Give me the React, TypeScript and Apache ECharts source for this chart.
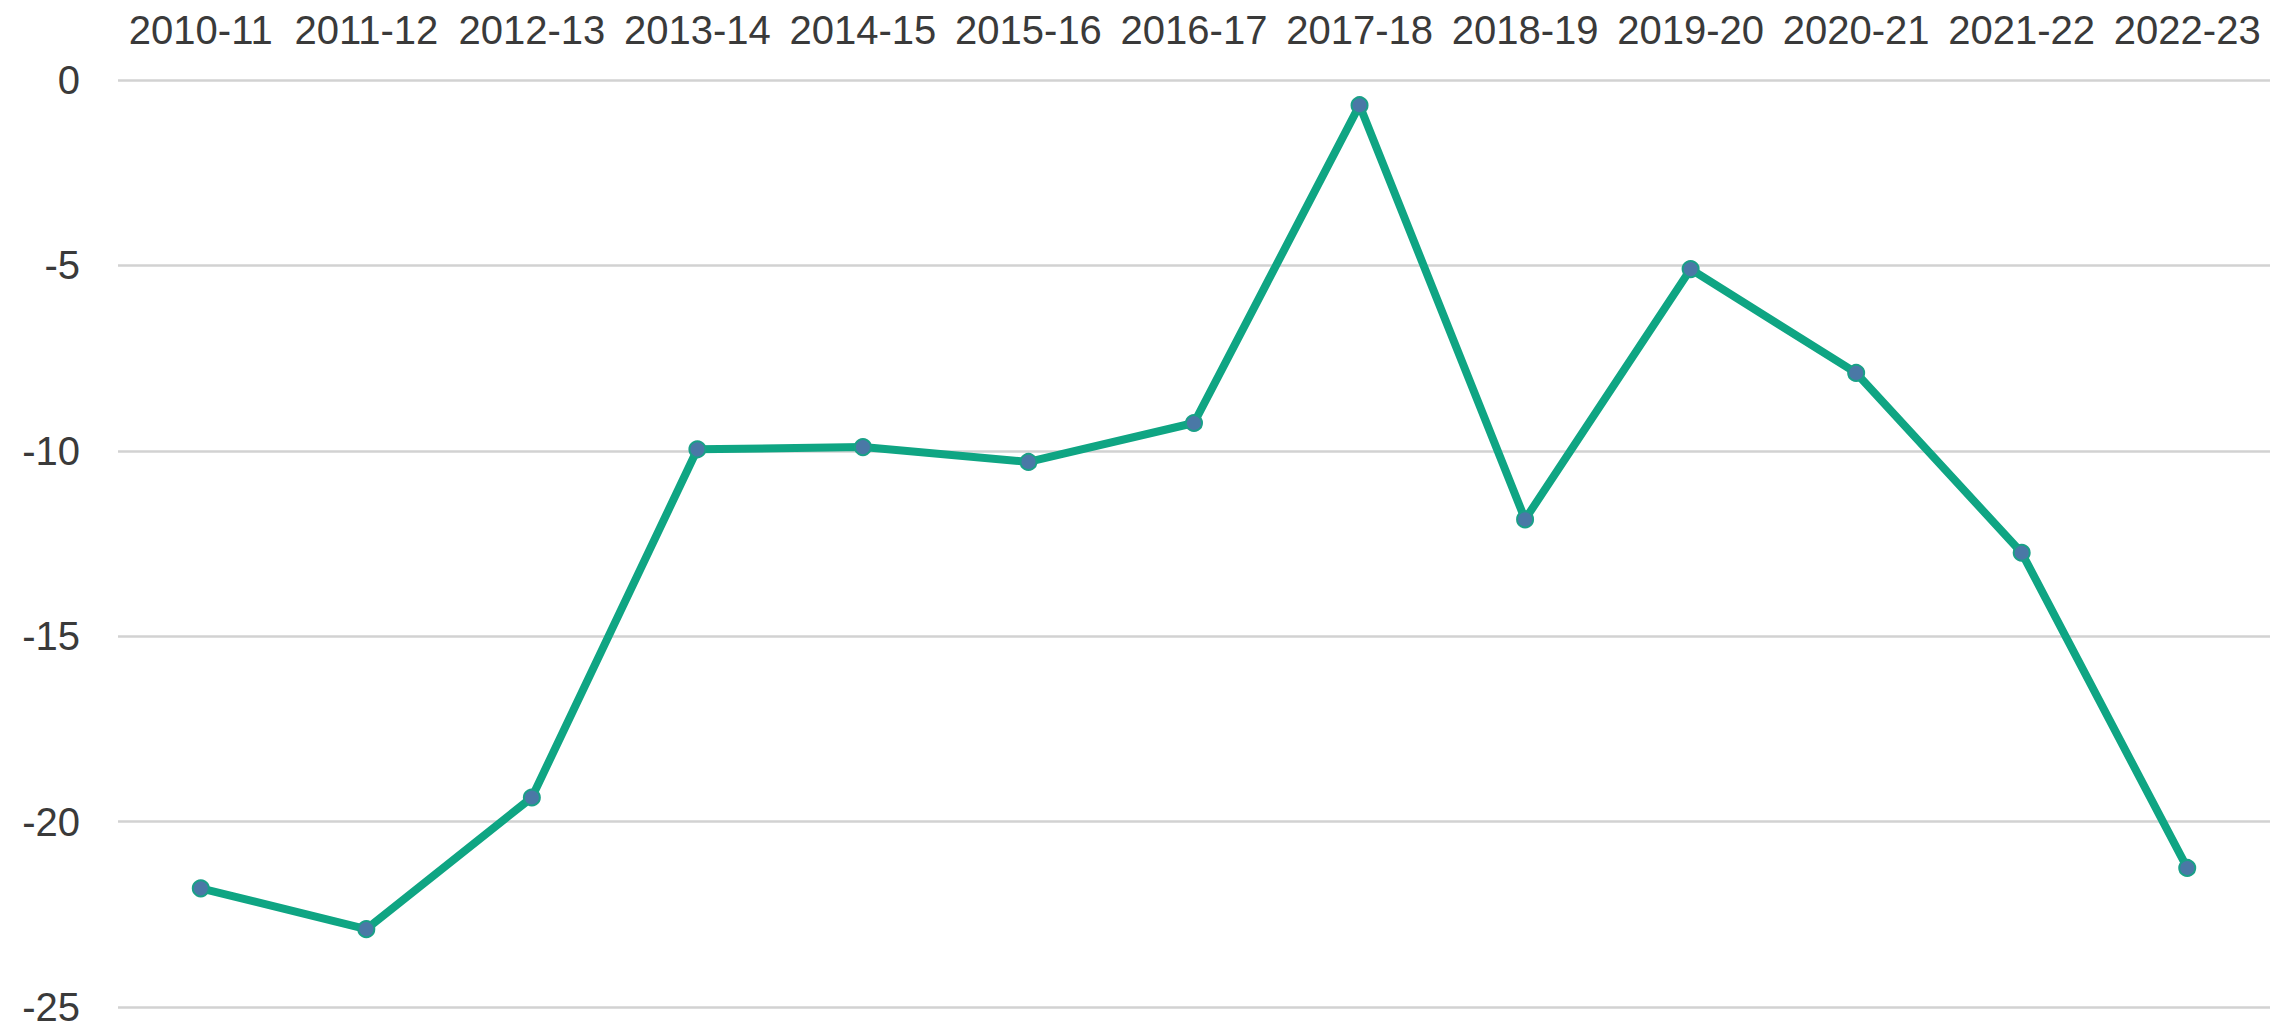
import React, { useEffect, useRef } from "react";
import * as echarts from "echarts";

const categories = [
  "2010-11", "2011-12", "2012-13", "2013-14", "2014-15", "2015-16", "2016-17",
  "2017-18", "2018-19", "2019-20", "2020-21", "2021-22", "2022-23",
];
const values = [-21.8, -22.9, -19.35, -9.96, -9.9, -10.3, -9.25, -0.68, -11.85, -5.1, -7.9, -12.75, -21.25];
const yMin = -25;
const yMax = 0;
const yStep = 5;

export default function App() {
  const ref = useRef<HTMLDivElement>(null);
  useEffect(() => {
    if (!ref.current) return;
    const chart = echarts.init(ref.current, undefined, { renderer: "svg" });
    const font = "'Liberation Sans', Arial, sans-serif";
    chart.setOption({
      animation: false,
      backgroundColor: "#ffffff",
      grid: { left: 118, right: 5, top: 80, bottom: 25, containLabel: false },
      xAxis: {
        type: "category",
        data: categories,
        position: "top",
        boundaryGap: true,
        axisLine: { show: false },
        axisTick: { show: false },
        splitLine: { show: false },
        axisLabel: {
          color: "#3a3a3a",
          fontFamily: font,
          fontSize: 40,
          margin: 30,
          interval: 0,
        },
      },
      yAxis: {
        type: "value",
        min: yMin,
        max: yMax,
        interval: yStep,
        axisLine: { show: false },
        axisTick: { show: false },
        splitLine: { show: true, lineStyle: { color: "#d2d2d2", width: 2.5 } },
        axisLabel: {
          color: "#3a3a3a",
          fontFamily: font,
          fontSize: 40,
          margin: 38,
        },
      },
      series: [
        {
          type: "line",
          data: values,
          symbol: "circle",
          symbolSize: 16,
          lineStyle: { color: "#0fa583", width: 8 },
          itemStyle: { color: "#4a78a6", borderColor: "#1aa088", borderWidth: 2 },
          z: 3,
        },
      ],
    });
    return () => chart.dispose();
  }, []);
  return (
    <div
      ref={ref}
      style={{ position: "fixed", left: 0, top: 0, width: 2275, height: 1032, background: "#fff" }}
    />
  );
}
